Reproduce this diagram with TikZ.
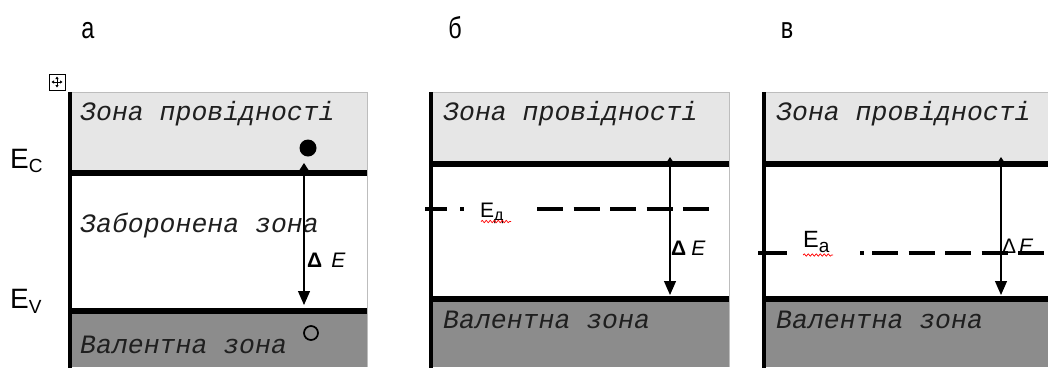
\documentclass[tikz,border=0pt]{standalone}
\usepackage{graphicx}
\usepackage{fontspec}
\setmainfont{Liberation Sans}
\setmonofont{Liberation Mono}
\usetikzlibrary{arrows.meta,decorations.pathmorphing}

\definecolor{cband}{HTML}{E6E6E6}
\definecolor{vband}{HTML}{8C8C8C}
\definecolor{rim}{HTML}{BDBDBD}

\begin{document}
\begin{tikzpicture}[x=1pt,y=-1pt,
  level/.style={line width=6pt},
  wall/.style={line width=4pt},
  rimline/.style={rim,line width=1pt},
  zonetxt/.style={anchor=base west,inner sep=0pt,text=black!88,
    font=\fontsize{26.5}{26.5}\selectfont\ttfamily\itshape},
  gaparrow/.style={{Triangle[width=10pt,length=8pt]}-{Triangle[width=12pt,length=14pt]},line width=1.2pt},
  impurity/.style={line width=3.5pt},
  impdash/.style={line width=3.5pt,dash pattern=on 26pt off 10.5pt},
  spell/.style={red,line width=0.7pt,decorate,
    decoration={snake,amplitude=1.2pt,segment length=4pt}},
  plabel/.style={anchor=base,inner sep=0pt,font=\fontsize{30}{30}\selectfont},
  lbl/.style={anchor=base west,inner sep=0pt},
]
\useasboundingbox (0,0) rectangle (1048,368);

% panel captions
\node[plabel] (cap-a) at (88,38) {\scalebox{0.78}[1]{а}};
\node[plabel] (cap-b) at (455,38) {\scalebox{0.78}[1]{б}};
\node[plabel] (cap-c) at (787,38) {\scalebox{0.78}[1]{в}};

% table move handle
\node[draw,line width=0.8pt,minimum size=16pt,inner sep=0pt] (handle) at (57,82) {};
\draw[line width=0.6pt,{Triangle[width=3pt,length=2.5pt]}-{Triangle[width=3pt,length=2.5pt]}]
  ([xshift=-5.5pt]handle.center) -- ([xshift=5.5pt]handle.center);
\draw[line width=0.6pt,{Triangle[width=3pt,length=2.5pt]}-{Triangle[width=3pt,length=2.5pt]}]
  ([yshift=-5.5pt]handle.center) -- ([yshift=5.5pt]handle.center);

% ---------------- panel a: intrinsic ----------------
\fill[cband] (70,93) rectangle (367,172);
\fill[vband] (70,310) rectangle (367,367);
\draw[rimline] (70,92.5) -- (367,92.5) -- (367,367);

\node[zonetxt] (a-cb) at (80,120) {Зона провідності};
\node[zonetxt] (a-gap) at (80,232) {Заборонена зона};
\node[zonetxt] (a-vb) at (80,353) {Валентна зона};

\coordinate (a-top) at (304,163);
\coordinate (a-bot) at (304,305);
\draw[gaparrow] (a-top) -- (a-bot);
\node[lbl,font=\fontsize{21}{21}\selectfont] (a-de) at (307,267) {\textbf{Δ}\hspace{9pt}\textit{E}};

\fill (308,148) circle (8.5pt);
\draw[line width=1.7pt] (311,333) circle (7pt);

\draw[level] (70,172.5) -- (367,172.5);
\draw[level] (70,310.5) -- (367,310.5);
\draw[wall] (70,92) -- (70,368);

\node[lbl,font=\fontsize{28}{28}\selectfont] (ec) at (10,168)
  {E\raisebox{-4pt}{\fontsize{19}{19}\selectfont C}};
\node[lbl,font=\fontsize{28}{28}\selectfont] (ev) at (10,308)
  {E\raisebox{-5pt}{\fontsize{19}{19}\selectfont V}};

% ---------------- panel b: donor level ----------------
\fill[cband] (431,93) rectangle (729,164);
\fill[vband] (431,299) rectangle (729,367);
\draw[rimline] (431,92.5) -- (729,92.5) -- (729,367);

\node[zonetxt] (b-cb) at (443,120) {Зона провідності};
\node[zonetxt] (b-vb) at (443,328) {Валентна зона};

\draw[impurity] (425,209) -- (447,209);
\draw[impurity] (460,209) -- (464,209);
\draw[impdash] (537,209) -- (712,209);
\node[lbl,font=\fontsize{21}{21}\selectfont] (ed) at (480,217)
  {E\raisebox{-3pt}{\fontsize{16}{16}\selectfont д}};
\draw[spell] (481,221.5) -- (511,221.5);

\coordinate (b-top) at (670,157);
\coordinate (b-bot) at (670,295);
\draw[gaparrow] (b-top) -- (b-bot);
\node[lbl,font=\fontsize{21}{21}\selectfont] (b-de) at (671,255) {\textbf{Δ}\hspace{5pt}\textit{E}};

\draw[level] (431,164) -- (729,164);
\draw[level] (431,299) -- (729,299);
\draw[wall] (431,92) -- (431,368);

% ---------------- panel c: acceptor level ----------------
\fill[cband] (764,93) rectangle (1048,164);
\fill[vband] (764,299) rectangle (1048,367);
\draw[rimline] (764,92.5) -- (1048,92.5);

\node[zonetxt] (c-cb) at (776,120) {Зона провідності};
\node[zonetxt] (c-vb) at (776,328) {Валентна зона};

\draw[impurity] (758,253) -- (787,253);
\draw[impurity] (860,253) -- (864,253);
\draw[impdash] (872,253) -- (1048,253);
\node[lbl,font=\fontsize{23.5}{23.5}\selectfont] (ea) at (803,247)
  {E\raisebox{-5pt}{\fontsize{19}{19}\selectfont а}};
\draw[spell] (803,255) -- (833,255);

\coordinate (c-top) at (1001,157);
\coordinate (c-bot) at (1001,295);
\draw[gaparrow] (c-top) -- (c-bot);
\node[lbl,font=\fontsize{21}{21}\selectfont] (c-de) at (1002,253) {Δ\hspace{3pt}\textit{E}};

\draw[level] (764,164) -- (1048,164);
\draw[level] (764,299) -- (1048,299);
\draw[wall] (764,92) -- (764,368);
\end{tikzpicture}
\end{document}
